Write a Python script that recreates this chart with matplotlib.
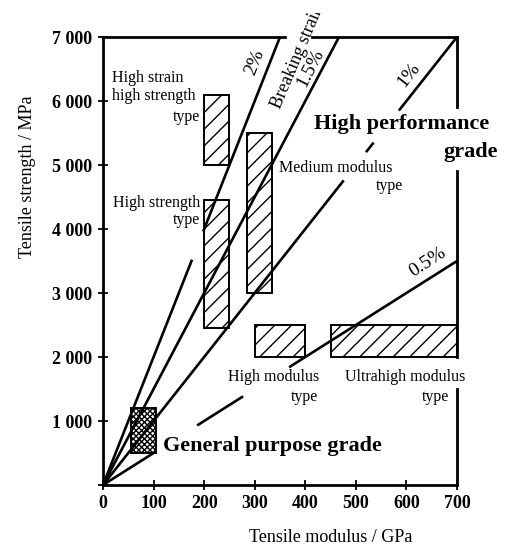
import matplotlib.pyplot as plt
from matplotlib.patches import Rectangle
from matplotlib.transforms import Bbox

plt.rcParams['font.family'] = ['Liberation Serif', 'DejaVu Serif']
plt.rcParams['hatch.linewidth'] = 1.0

# breaking strain lines (strain in %), drawn as pieces between moduli (GPa)
strains = [2.0, 1.5, 1.0, 0.5]
strain_pieces = [
    [(0, 176), (198, 350)],
    [(0, 467)],
    [(0, 476), (520, 535), (585, 700)],
    [(0, 105), (186, 277), (368, 700)],
]

# fibre type regions: modulus range (GPa), strength range (MPa)
box_names = ["high strain high strength", "high strength", "medium modulus",
             "high modulus", "ultrahigh modulus", "general purpose"]
box_mod = [(200, 250), (200, 250), (285, 335), (300, 400), (450, 700), (55, 105)]
box_str = [(5000, 6100), (2450, 4450), (3000, 5500), (2000, 2500), (2000, 2500), (500, 1200)]
box_hatch = ['//', '//', '//', '//', '//', 'xxxxxx']

xticks = [0, 100, 200, 300, 400, 500, 600, 700]
yticks = [0, 1000, 2000, 3000, 4000, 5000, 6000, 7000]
ytick_labels = ["", "1 000", "2 000", "3 000", "4 000", "5 000", "6 000", "7 000"]

fig = plt.figure(figsize=(5.12, 5.48), dpi=100)
ax = fig.add_axes([103 / 512, 1 - 485 / 548, 354 / 512, 448 / 548])
ax.set_xlim(0, 700)
ax.set_ylim(0, 7000)

for (m0, m1), (s0, s1), h in zip(box_mod, box_str, box_hatch):
    ax.add_patch(Rectangle((m0, s0), m1 - m0, s1 - s0, facecolor='white',
                           edgecolor='black', hatch=h, lw=1.4, zorder=1))

for s, pieces in zip(strains, strain_pieces):
    for e0, e1 in pieces:
        ax.plot([e0, e1], [e0 * s * 10, e1 * s * 10], color='black', lw=1.9,
                solid_capstyle='butt', clip_on=False, zorder=2)

# frame: left and bottom full, top and right broken around labels
for side in ['top', 'right']:
    ax.spines[side].set_visible(False)
for side in ['left', 'bottom']:
    ax.spines[side].set_linewidth(2.0)
frame = [((0, 7000), (360, 7000)), ((413, 7000), (700, 7000)),
         ((700, 7000), (700, 5900)), ((700, 4900), (700, 2000)),
         ((700, 1500), (700, 0))]
for (x0, y0), (x1, y1) in frame:
    ax.plot([x0, x1], [y0, y1], color='black', lw=2.0, clip_on=False,
            solid_capstyle='projecting', zorder=3)

ax.set_xticks(xticks)
ax.set_xticklabels([str(v) for v in xticks])
ax.set_yticks(yticks)
ax.set_yticklabels(ytick_labels)
ax.tick_params(direction='inout', length=7, width=1.3, labelsize=13, pad=4)
for lab in ax.get_xticklabels() + ax.get_yticklabels():
    lab.set_fontweight('bold')

fig.text(28 / 512, 1 - 177 / 548, "Tensile strength / MPa", rotation=90,
         ha='center', va='center', fontsize=13)
fig.text(331 / 512, 1 - 537 / 548, "Tensile modulus / GPa",
         ha='center', va='center', fontsize=13)

fs = 11.5
ax.text(18, 6220, "High strain\nhigh strength", ha='left', va='center',
        fontsize=fs, linespacing=1.15)
ax.text(192, 5750, "type", ha='right', va='center', fontsize=fs)
ax.text(192, 4273, "High strength\ntype", ha='right', va='center',
        multialignment='right', fontsize=fs, linespacing=1.15)
ax.text(348, 4953, "Medium modulus", ha='left', va='center', fontsize=fs)
ax.text(593, 4672, "type", ha='right', va='center', fontsize=fs)
ax.text(337, 1688, "High modulus", ha='center', va='center', fontsize=fs)
ax.text(425, 1375, "type", ha='right', va='center', fontsize=fs)
ax.text(597, 1688, "Ultrahigh modulus", ha='center', va='center', fontsize=fs)
ax.text(684, 1375, "type", ha='right', va='center', fontsize=fs)

ax.text(417, 5640, "High performance", ha='left', va='center',
        fontsize=16, fontweight='bold')
ax.text(781, 5203, "grade", ha='right', va='center',
        fontsize=16, fontweight='bold')
ax.text(119, 610, "General purpose grade", ha='left', va='center',
        fontsize=16, fontweight='bold')

ax.text(300, 6610, "2%", rotation=68, ha='center', va='center', fontsize=14)
ax.text(411, 6516, "1.5%", rotation=63, ha='center', va='center', fontsize=14)
ax.text(605, 6406, "1%", rotation=52, ha='center', va='center', fontsize=14)
ax.text(642, 3484, "0.5%", rotation=33, ha='center', va='center', fontsize=14)

bs = ax.text(342, 5890, "Breaking strain", rotation=67, ha='left',
             va='center', rotation_mode='anchor', fontsize=13)
bs.set_clip_box(Bbox([[0, 0], [512, 548 - 13]]))
bs.set_clip_on(True)

fig.savefig("out.png", dpi=100)
